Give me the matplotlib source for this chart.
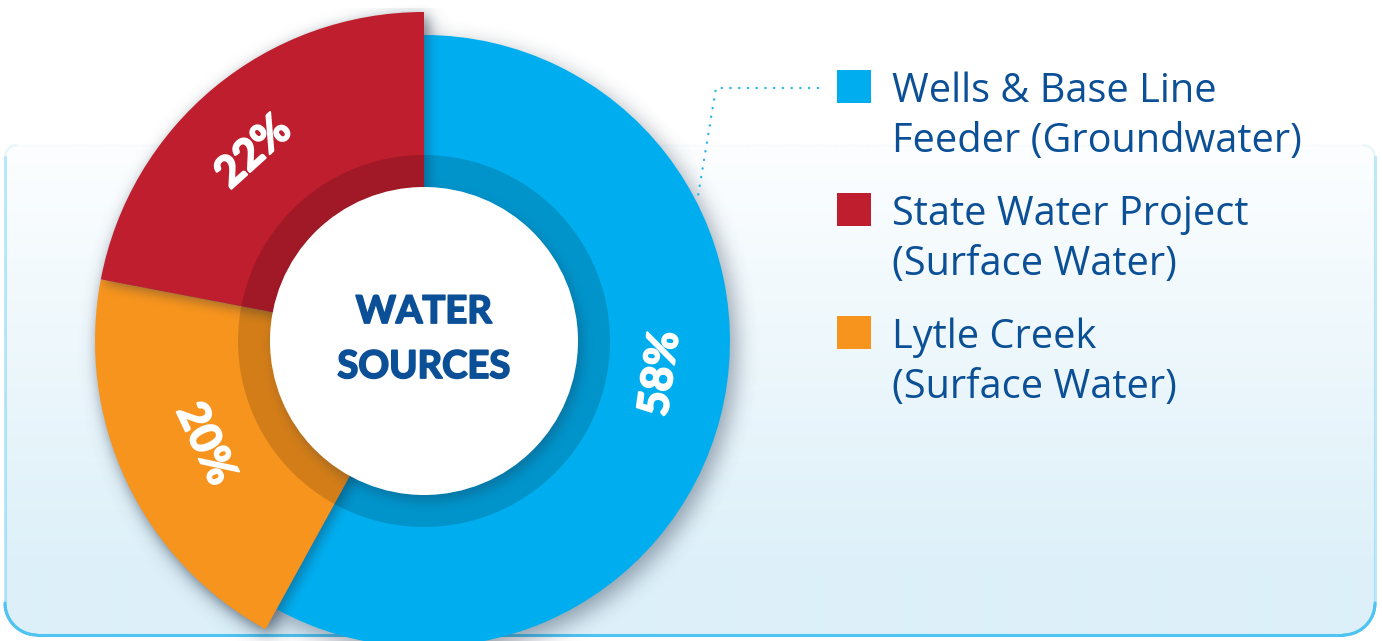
import numpy as np
import matplotlib
matplotlib.use("Agg")
import matplotlib.pyplot as plt
import matplotlib.patheffects as pe
from matplotlib.patches import Wedge, Circle, Rectangle, PathPatch
from matplotlib.path import Path
from matplotlib.collections import LineCollection

# ---- data (clockwise from 12 o'clock) ----
sources = ["Wells & Base Line\nFeeder (Groundwater)",
           "Lytle Creek\n(Surface Water)",
           "State Water Project\n(Surface Water)"]
shares = [58, 20, 22]
pct_labels = ["58%", "20%", "22%"]
legend_order = [0, 2, 1]
center_title = ["WATER", "SOURCES"]

# ---- styling ----
slice_colors = ["#00AEEF", "#F7941D", "#BE1E2D"]
outer_radius = [306, 329, 329]
label_shift = [6.5, 0.0, 2.5]      # degrees nudged counter-clockwise
label_radius = [238, 241, 255]
hole_r, ring_r = 154, 186
navy = "#0B4F96"
heavy_family = ["Lato", "DejaVu Sans"]

W, H = 1382, 641
cx, cy_img = 424, 341
cy = H - cy_img

fig = plt.figure(figsize=(W / 100, H / 100), dpi=100)
ax = fig.add_axes([0, 0, 1, 1])
ax.set_xlim(0, W)
ax.set_ylim(0, H)
ax.axis("off")


def Y(y_img):
    return H - y_img


def fattened(color, lw):
    return [pe.withStroke(linewidth=lw, foreground=color)]


# ---- raster helpers for soft shadows ----
yy, xx = np.mgrid[0:H, 0:W] + 0.5
rr = np.hypot(xx - cx, yy - cy_img)
phi = (90 - np.degrees(np.arctan2(cy_img - yy, xx - cx))) % 360


def box1d(a, r, axis):
    a = np.moveaxis(a, axis, -1)
    pad = np.pad(a, [(0, 0)] * (a.ndim - 1) + [(r + 1, r)], mode="edge")
    c = np.cumsum(pad, axis=-1)
    out = (c[..., 2 * r + 1:] - c[..., :-2 * r - 1]) / (2 * r + 1)
    return np.moveaxis(out, -1, axis)


def blur(a, r):
    for _ in range(3):
        a = box1d(a, r, 0)
        a = box1d(a, r, 1)
    return a


def soft_shadow(mask, r, dx, dy, alpha, z, color=(0.12, 0.18, 0.27)):
    m = blur(mask.astype(float), r)
    s = np.zeros_like(m)
    s[dy:, dx:] = m[:H - dy, :W - dx]
    rgba = np.zeros((H, W, 4))
    rgba[..., 0], rgba[..., 1], rgba[..., 2] = color
    rgba[..., 3] = s * alpha
    ax.imshow(rgba, extent=(0, W, 0, H), origin="upper", zorder=z,
              interpolation="nearest", aspect="auto")


# ---- background panel ----
def rounded_panel(x0, y0, x1, y1, r_top, r_bot, n=24):
    pts = []
    for (ccx, ccy, r, a0, a1) in [
        (x0 + r_bot, y0 + r_bot, r_bot, 180, 270),
        (x1 - r_bot, y0 + r_bot, r_bot, 270, 360),
        (x1 - r_top, y1 - r_top, r_top, 0, 90),
        (x0 + r_top, y1 - r_top, r_top, 90, 180),
    ]:
        t = np.radians(np.linspace(a0, a1, n))
        pts += list(zip(ccx + r * np.cos(t), ccy + r * np.sin(t)))
    pts.append(pts[0])
    return np.array(pts)


panel = rounded_panel(5, Y(635), 1375, Y(145), 12, 32)
panel_patch = PathPatch(Path(panel), facecolor="none", edgecolor="none")
ax.add_patch(panel_patch)
top_c = np.array([0xFC, 0xFE, 0xFF]) / 255
bot_c = np.array([0xDD, 0xF0, 0xF9]) / 255
grad_t = np.clip((np.arange(H) + 0.5 - 150) / 420, 0, 1)[:, None]
grad = top_c * (1 - grad_t[..., None]) + bot_c * grad_t[..., None]
grad = np.repeat(grad, 4, axis=1)
gim = ax.imshow(grad, extent=(0, W, 0, H), origin="upper", zorder=0,
                interpolation="bilinear", aspect="auto")
gim.set_clip_path(panel_patch)

segs = np.stack([panel[:-1], panel[1:]], axis=1)
mid_y = H - 0.5 * (segs[:, 0, 1] + segs[:, 1, 1])
alph = 0.02 + 0.98 * np.clip((mid_y - 155) / 430, 0, 1) ** 1.6
border_cols = [(0.30, 0.77, 0.95, a) for a in alph]
ax.add_collection(LineCollection(segs, colors=border_cols, linewidths=2.2,
                                 zorder=1, capstyle="round"))

# ---- donut slices ----
total = float(sum(shares))
start = 90.0
angles = []
for v in shares:
    end = start - 360.0 * v / total
    angles.append((end, start))
    start = end

masks = []
for (t1, t2), R in zip(angles, outer_radius):
    a = (90 - t2) % 360
    b = a + (t2 - t1)
    masks.append((phi >= a) & (phi < b) & (rr < R))

soft_shadow(np.any(masks, axis=0), 10, 6, 8, 0.42, 2)

z = 3
for i, ((t1, t2), R, col) in enumerate(zip(angles, outer_radius, slice_colors)):
    if i > 0:
        soft_shadow(masks[i], 5, 4, 4, 0.40, z)
    ax.add_patch(Wedge((cx, cy), R, t1, t2, facecolor=col, edgecolor="none",
                       zorder=z + 0.5))
    z += 1

# darker inner band
ax.add_patch(Wedge((cx, cy), ring_r, 0, 360, width=ring_r - hole_r,
                   facecolor="black", alpha=0.15, edgecolor="none", zorder=z))
soft_shadow(rr < hole_r, 5, 4, 6, 0.30, z + 0.2)
ax.add_patch(Circle((cx, cy), hole_r, facecolor="white", edgecolor="none",
                    zorder=z + 0.5))

for line, base in zip(center_title, [323, 378]):
    ax.text(cx, Y(base), line, ha="center", va="baseline", fontsize=27.5,
            fontweight="bold", family=heavy_family, color=navy, zorder=z + 1,
            path_effects=fattened(navy, 1.3))

# percentage labels along the ring
for (t1, t2), lab, sh, rl in zip(angles, pct_labels, label_shift, label_radius):
    mid = 0.5 * (t1 + t2) + sh
    tx = cx + rl * np.cos(np.radians(mid))
    ty = cy + rl * np.sin(np.radians(mid))
    rot = mid - 90
    while rot > 90:
        rot -= 180
    while rot < -90:
        rot += 180
    ax.text(tx, ty, lab, ha="center", va="center", rotation=rot,
            rotation_mode="anchor", fontsize=31, fontweight="bold",
            family=heavy_family, color="white", zorder=z + 1,
            path_effects=fattened("white", 1.4))

# ---- legend ----
legend_font = ["Open Sans", "DejaVu Sans"]
for k, idx in enumerate(legend_order):
    top = 70 + 123 * k
    ax.add_patch(Rectangle((837, Y(top + 33)), 34, 33,
                           facecolor=slice_colors[idx], edgecolor="none",
                           zorder=z + 1))
    for j, line in enumerate(sources[idx].split("\n")):
        ax.text(892, Y(top + 32 + 50 * j), line, ha="left", va="baseline",
                fontsize=28.6, family=legend_font, color=navy, zorder=z + 1)

# dotted leader from the blue slice to its legend entry
ax.plot([818, 716, 698], [Y(88), Y(88), Y(196)], color="#29B6E8", lw=1.7,
        linestyle=(0, (0.1, 3.6)), dash_capstyle="round", zorder=z + 1)

fig.savefig("out.png", dpi=100, facecolor="white")
